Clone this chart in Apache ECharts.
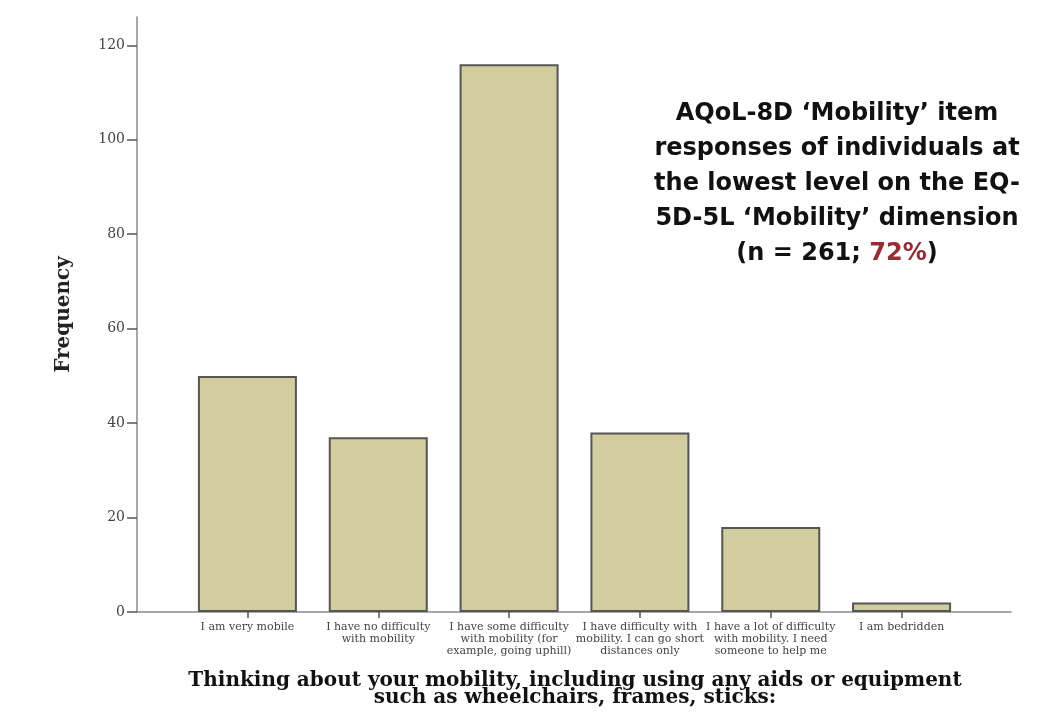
<!DOCTYPE html>
<html lang="en">
<head>
    <meta charset="UTF-8">
    <title>AQoL-8D Mobility</title>
    <script src="https://cdn.jsdelivr.net/npm/echarts@6/dist/echarts.min.js"></script>
    <style>
        html, body { margin: 0; padding: 0; background: #fff; }
        #chart { width: 1052px; height: 728px; }
    </style>
</head>
<body>
<div id="chart"></div>
<script>
    // categories and counts
    var categories = [
        'I am very mobile',
        'I have no difficulty\nwith mobility',
        'I have some difficulty\nwith mobility (for\nexample, going uphill)',
        'I have difficulty with\nmobility. I can go short\ndistances only',
        'I have a lot of difficulty\nwith mobility. I need\nsomeone to help me',
        'I am bedridden'
    ];
    var frequency = [50, 37, 116, 38, 18, 2];
    var yTicks = [0, 20, 40, 60, 80, 100, 120];

    var chart = echarts.init(document.getElementById('chart'));

    var option = {
        animation: false,
        backgroundColor: '#fff',
        title: [
            {
                text: '{b|AQoL-8D \u2018Mobility\u2019 item}\n{b|responses of individuals at}\n{b|the lowest level on the EQ-}\n{b|5D-5L \u2018Mobility\u2019 dimension}\n{b|(n = 261; }{r|72%}{b|)}',
                left: 837, top: 96, textAlign: 'center', padding: 0,
                textStyle: {
                    rich: {
                        b: { fontFamily: 'DejaVu Sans', fontWeight: 'bold', fontSize: 24, lineHeight: 35, color: '#111' },
                        r: { fontFamily: 'DejaVu Sans', fontWeight: 'bold', fontSize: 24, lineHeight: 35, color: '#9c2a35' }
                    }
                }
            },
            {
                text: 'Thinking about your mobility, including using any aids or equipment\nsuch as wheelchairs, frames, sticks:',
                left: 575, top: 672, textAlign: 'center', padding: 0,
                textStyle: {
                    fontFamily: 'DejaVu Serif', fontWeight: 'bold', fontSize: 20, lineHeight: 17.5, color: '#111'
                }
            }
        ],
        grid: [
            // full frame: y axis and long baseline
            { left: 137, right: 41, top: 17, bottom: 116 },
            // bars sit in the inner band
            { left: 182, right: 85, top: 17, bottom: 116 }
        ],
        xAxis: [
            {
                gridIndex: 0, type: 'value', min: 0, max: 1,
                axisLine: { show: true, lineStyle: { color: '#8a8a8a', width: 1.5 } },
                axisTick: { show: false }, axisLabel: { show: false }, splitLine: { show: false }
            },
            {
                gridIndex: 1, type: 'category', data: categories,
                axisLine: { show: false },
                axisTick: { show: true, alignWithLabel: true, length: 6, lineStyle: { color: '#555', width: 1.5 } },
                axisLabel: {
                    interval: 0, margin: 9,
                    fontFamily: 'DejaVu Serif', fontSize: 11, lineHeight: 12, color: '#444'
                }
            }
        ],
        yAxis: [
            {
                gridIndex: 0, type: 'value', min: 0, max: 126,
                name: 'Frequency', nameLocation: 'middle', nameGap: 63, nameRotate: 90,
                nameTextStyle: { fontFamily: 'DejaVu Serif', fontSize: 20, fontWeight: 'bold', color: '#222' },
                axisLine: { show: true, lineStyle: { color: '#8a8a8a', width: 1.5 } },
                axisTick: { show: true, length: 10, customValues: yTicks, lineStyle: { color: '#555', width: 1.5 } },
                axisLabel: {
                    customValues: yTicks, margin: 12,
                    fontFamily: 'DejaVu Serif', fontSize: 14, color: '#444'
                },
                splitLine: { show: false }
            },
            {
                gridIndex: 1, type: 'value', min: 0, max: 126, show: false
            }
        ],
        series: [{
            type: 'bar',
            xAxisIndex: 1, yAxisIndex: 1,
            data: frequency,
            barWidth: 99,
            itemStyle: { color: '#d1cd9e', borderColor: '#555', borderWidth: 2 }
        }]
    };

    chart.setOption(option);
</script>
</body>
</html>
